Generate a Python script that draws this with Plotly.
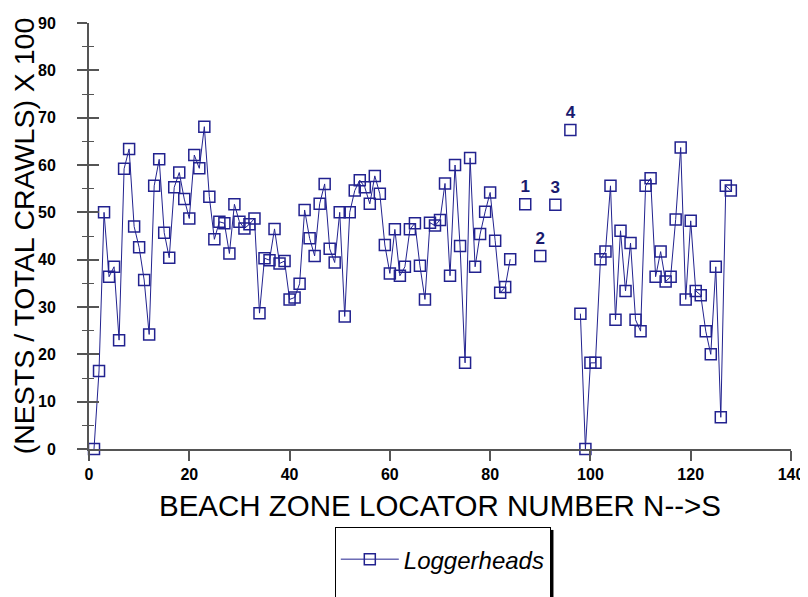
import plotly.graph_objects as go

# Main series: beach zone number vs (nests / total crawls) x 100
zones_a = list(range(1, 85))
ratio_a = [0.0, 16.5, 50.0, 36.4, 38.5, 23.0, 59.2, 63.4, 47.0, 42.6,
           35.7, 24.2, 55.6, 61.2, 45.7, 40.4, 55.3, 58.4, 52.8, 48.7,
           62.1, 59.3, 68.1, 53.3, 44.3, 48.0, 47.7, 41.3, 51.7, 48.0,
           46.6, 47.5, 48.7, 28.7, 40.3, 39.9, 46.5, 39.2, 39.7, 31.6,
           32.0, 34.9, 50.5, 44.5, 40.8, 51.8, 56.0, 42.3, 39.4, 50.0,
           28.0, 50.0, 54.6, 56.8, 55.3, 51.8, 57.7, 53.9, 43.1, 37.1,
           46.4, 36.6, 38.5, 46.4, 47.7, 38.7, 31.6, 47.8, 47.2, 48.4,
           56.1, 36.6, 60.0, 42.9, 18.2, 61.5, 38.5, 45.4, 50.1, 54.2,
           44.0, 33.0, 34.2, 40.1]
zones_b = list(range(98, 129))
ratio_b = [28.6, 0.0, 18.2, 18.2, 40.1, 41.7, 55.6, 27.3, 46.1, 33.4,
           43.5, 27.3, 24.9, 55.6, 57.2, 36.4, 41.7, 35.4, 36.4, 48.5,
           63.7, 31.6, 48.2, 33.4, 32.5, 24.9, 20.0, 38.5, 6.7, 55.6,
           54.6]

# Isolated labelled zones
zones_lab = [87, 90, 93, 96]
ratio_lab = [51.7, 40.8, 51.6, 67.4]
labels = ["1", "2", "3", "4"]

x_ticks = [0, 20, 40, 60, 80, 100, 120, 140]
y_ticks = [0, 10, 20, 30, 40, 50, 60, 70, 80, 90]

NAVY = "#22228f"
AXIS = "#555555"

fig = go.Figure()
fig.add_trace(go.Scatter(
    x=zones_a + [None] + zones_b,
    y=ratio_a + [None] + ratio_b,
    mode="lines+markers",
    name="Loggerheads",
    line=dict(color=NAVY, width=1),
    marker=dict(symbol="square-open", size=11, color=NAVY,
                line=dict(color=NAVY, width=1.5)),
    cliponaxis=False,
))
fig.add_trace(go.Scatter(
    x=zones_lab, y=ratio_lab, text=labels,
    mode="markers+text", textposition="top center",
    textfont=dict(family="Arial", size=17, color="#1a1a6e", weight="bold"),
    marker=dict(symbol="square-open", size=11, color=NAVY,
                line=dict(color=NAVY, width=1.5)),
    showlegend=False, cliponaxis=False,
))
# invisible spacer entry so the legend box runs down past the page edge
fig.add_trace(go.Scatter(
    x=[None], y=[None], mode="lines", name=" ",
    line=dict(width=0, color="rgba(0,0,0,0)"), showlegend=True,
))
fig.add_trace(go.Scatter(x=[], y=[], yaxis="y2", showlegend=False))

fig.update_layout(
    width=808, height=597,
    margin=dict(l=81, r=25, t=15, b=156, autoexpand=False),
    paper_bgcolor="white", plot_bgcolor="white",
    font=dict(family="Arial", color="black"),
    xaxis=dict(range=[0, 140], tickvals=x_ticks, showline=True,
               linecolor=AXIS, linewidth=2, ticks="outside", ticklen=10,
               tickwidth=1.5, tickcolor=AXIS, showgrid=False, zeroline=False,
               automargin=False,
               tickfont=dict(size=16, weight="bold"),
               title=dict(text="BEACH ZONE LOCATOR NUMBER N-->S",
                          font=dict(size=29.5), standoff=13)),
    yaxis=dict(range=[0, 90], tickvals=y_ticks, showline=True,
               linecolor=AXIS, linewidth=2, ticks="outside", ticklen=10,
               tickwidth=1.5, tickcolor=AXIS, showgrid=False, zeroline=False,
               automargin=False, ticklabelstandoff=18,
               minor=dict(ticks="outside", ticklen=5, dtick=5,
                          tickcolor=AXIS, tickwidth=1),
               tickfont=dict(size=16, weight="bold"),
               title=dict(text="(NESTS / TOTAL CRAWLS) X 100",
                          font=dict(size=28.5), standoff=7)),
    yaxis2=dict(range=[0, 90], overlaying="y", side="left", anchor="x",
                tickvals=y_ticks, ticks="inside", ticklen=10, tickwidth=1.5,
                tickcolor=AXIS, showticklabels=False, showline=False,
                showgrid=False, zeroline=False,
                minor=dict(ticks="inside", ticklen=5, dtick=5,
                           tickcolor=AXIS, tickwidth=1)),
    legend=dict(x=0.504, xanchor="center", y=-0.183, yanchor="top",
                bgcolor="white", bordercolor="black", borderwidth=1,
                font=dict(size=24, style="italic"),
                title=dict(text=" ", font=dict(size=7)),
                itemwidth=58, traceorder="normal"),
    showlegend=True,
    shapes=[dict(type="line", xref="paper", yref="paper",
                 x0=0.6595, x1=0.6595, y0=-0.19, y1=-0.5,
                 line=dict(color="black", width=3))],
)

fig.write_html("out.html")
